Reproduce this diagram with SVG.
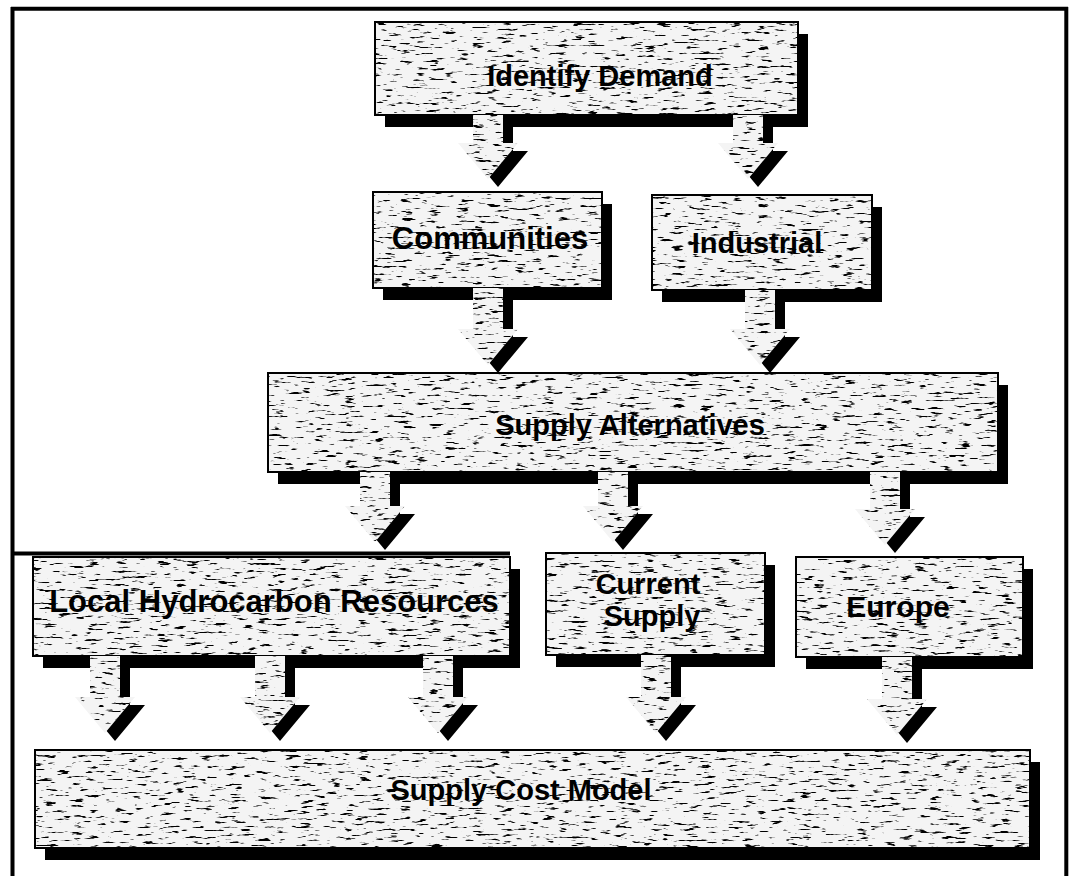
<svg xmlns="http://www.w3.org/2000/svg" width="1070" height="876" viewBox="0 0 1070 876">
<defs>
<style>
.frame{stroke:#000;stroke-width:4;fill:none}
.shadow{fill:#000}
.box{fill:#f4f4f4;stroke:#000;stroke-width:2;filter:url(#tex)}
.arrow{fill:#f4f4f4;filter:url(#tex)}
.label{font-family:"Liberation Sans",Arial,Helvetica,sans-serif;font-weight:bold;font-size:29px;fill:#000;text-anchor:middle}
</style>
<filter id="tex" x="-0.02" y="-0.02" width="1.04" height="1.04" color-interpolation-filters="sRGB">
<feTurbulence type="fractalNoise" baseFrequency="0.07 0.38" numOctaves="3" seed="5" result="n"/>
<feColorMatrix in="n" type="matrix" values="0 0 0 0 0  0 0 0 0 0  0 0 0 0 0  9 0 0 0 -5.55" result="s"/>
<feComposite in="s" in2="SourceGraphic" operator="in" result="sc"/>
<feMerge><feMergeNode in="SourceGraphic"/><feMergeNode in="sc"/></feMerge>
</filter>
</defs>
<rect width="1070" height="876" fill="#fff"/>
<g id="frame">
<path class="frame" d="M11,8.7 H1068 M12.5,7 V876 M1066.3,7 V876"/>
<path class="frame" stroke-width="5" d="M11,553.5 H510"/>
</g>
<g id="identify-demand">
<rect class="shadow" x="385" y="34" width="423" height="93"/>
<rect class="box" x="375" y="22" width="423" height="93"/>
<text class="label" x="600" y="86">Identify Demand</text>
</g>
<g id="communities">
<rect class="shadow" x="383" y="204" width="229" height="96"/>
<rect class="box" x="373" y="192" width="229" height="96"/>
<text class="label" x="490" y="249" style="font-size:31px">Communities</text>
</g>
<g id="industrial">
<rect class="shadow" x="662" y="207" width="220" height="95"/>
<rect class="box" x="652" y="195" width="220" height="95"/>
<text class="label" x="757" y="253">Industrial</text>
</g>
<g id="supply-alternatives">
<rect class="shadow" x="278" y="385" width="730" height="99"/>
<rect class="box" x="268" y="373" width="730" height="99"/>
<text class="label" x="630" y="435">Supply Alternatives</text>
</g>
<g id="local-hydrocarbon">
<rect class="shadow" x="43" y="569" width="477" height="99"/>
<rect class="box" x="33" y="557" width="477" height="99"/>
<text class="label" x="274" y="612" style="font-size:31px">Local Hydrocarbon Resources</text>
</g>
<g id="current-supply">
<rect class="shadow" x="556" y="565" width="219" height="102"/>
<rect class="box" x="546" y="553" width="219" height="102"/>
<text class="label" x="648" y="594">Current</text>
<text class="label" x="652" y="626">Supply</text>
</g>
<g id="europe">
<rect class="shadow" x="806" y="569" width="227" height="100"/>
<rect class="box" x="796" y="557" width="227" height="100"/>
<text class="label" x="898" y="617" style="font-size:30px">Europe</text>
</g>
<g id="supply-cost-model">
<rect class="shadow" x="45" y="762" width="995" height="98"/>
<rect class="box" x="35" y="750" width="995" height="98"/>
<text class="label" x="521" y="800">Supply Cost Model</text>
</g>
<g id="connectors">
<path class="shadow" d="M483,115 H513 V151 H528 L498,187 L468,151 H483 Z"/>
<path class="arrow" d="M473,115 H503 V143 H518 L488,179 L458,143 H473 Z"/>
<path class="shadow" d="M743,115 H773 V151 H788 L758,187 L728,151 H743 Z"/>
<path class="arrow" d="M733,115 H763 V143 H778 L748,179 L718,143 H733 Z"/>
<path class="shadow" d="M483,288 H513 V337 H528 L498,373 L468,337 H483 Z"/>
<path class="arrow" d="M473,288 H503 V329 H518 L488,365 L458,329 H473 Z"/>
<path class="shadow" d="M755,290 H785 V337 H800 L770,373 L740,337 H755 Z"/>
<path class="arrow" d="M745,290 H775 V329 H790 L760,365 L730,329 H745 Z"/>
<path class="shadow" d="M370,472 H400 V514 H415 L385,550 L355,514 H370 Z"/>
<path class="arrow" d="M360,472 H390 V506 H405 L375,542 L345,506 H360 Z"/>
<path class="shadow" d="M608,472 H638 V514 H653 L623,550 L593,514 H608 Z"/>
<path class="arrow" d="M598,472 H628 V506 H643 L613,542 L583,506 H598 Z"/>
<path class="shadow" d="M880,472 H910 V517 H925 L895,553 L865,517 H880 Z"/>
<path class="arrow" d="M870,472 H900 V509 H915 L885,545 L855,509 H870 Z"/>
<path class="shadow" d="M100,656 H130 V705 H145 L115,741 L85,705 H100 Z"/>
<path class="arrow" d="M90,656 H120 V697 H135 L105,733 L75,697 H90 Z"/>
<path class="shadow" d="M265,656 H295 V705 H310 L280,741 L250,705 H265 Z"/>
<path class="arrow" d="M255,656 H285 V697 H300 L270,733 L240,697 H255 Z"/>
<path class="shadow" d="M433,656 H463 V705 H478 L448,741 L418,705 H433 Z"/>
<path class="arrow" d="M423,656 H453 V697 H468 L438,733 L408,697 H423 Z"/>
<path class="shadow" d="M651,655 H681 V705 H696 L666,741 L636,705 H651 Z"/>
<path class="arrow" d="M641,655 H671 V697 H686 L656,733 L626,697 H641 Z"/>
<path class="shadow" d="M892,657 H922 V707 H937 L907,743 L877,707 H892 Z"/>
<path class="arrow" d="M882,657 H912 V699 H927 L897,735 L867,699 H882 Z"/>
</g>
</svg>
